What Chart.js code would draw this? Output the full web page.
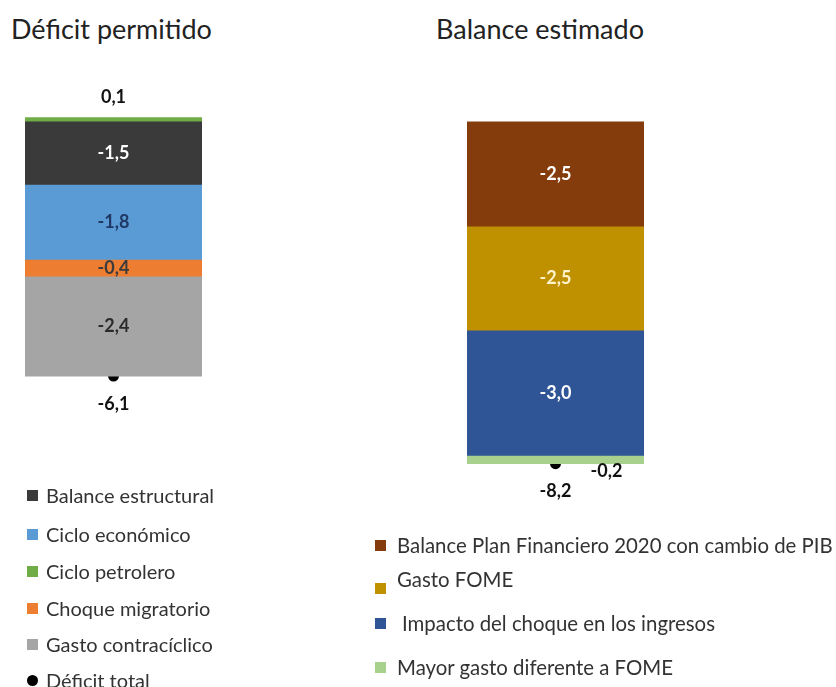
<!DOCTYPE html>
<html>
<head>
<meta charset="utf-8">
<script src="https://cdn.jsdelivr.net/npm/chart.js@4.4.1/dist/chart.umd.min.js"></script>
<style>
  body { margin: 0; background: #fff; font-family: Lato, sans-serif; color: #222; }
  #page { position: relative; width: 836px; height: 687px; overflow: hidden; }
  .title { position: absolute; top: 12px; font-size: 27px; line-height: normal; color: #222; white-space: nowrap; }
  .box { position: absolute; top: 0; width: 230px; height: 687px; }
  .legend { position: absolute; top: 0; margin: 0; padding: 0; list-style: none; font-size: 20px; color: #333; }
  .legend li { position: absolute; left: 0; height: 24px; line-height: 24px; white-space: nowrap; }
  .legend .sw { position: absolute; top: 7px; width: 11px; height: 11px; }
  .legend .dot { border-radius: 50%; }
  .legend .txt { position: absolute; top: 0; }
  #rightLegend { font-size: 20.4px; }
</style>
</head>
<body>
<div id="page">
  <div class="title" style="left:11px">Déficit permitido</div>
  <div class="title" style="left:436px">Balance estimado</div>
  <div class="box" style="left:0"><canvas id="leftChart"></canvas></div>
  <div class="box" style="left:440px"><canvas id="rightChart"></canvas></div>
  <ul class="legend" id="leftLegend" style="left:27px"></ul>
  <ul class="legend" id="rightLegend" style="left:375px"></ul>
</div>
<script>
// Déficit permitido (% del PIB)
const leftNames = ['Balance estructural', 'Ciclo económico', 'Choque migratorio', 'Gasto contracíclico', 'Ciclo petrolero'];
const leftValues = [-1.5, -1.8, -0.4, -2.4, 0.1];
const leftTotal = -6.1;

// Balance estimado (% del PIB)
const rightNames = ['Balance Plan Financiero 2020 con cambio de PIB', 'Gasto FOME', 'Impacto del choque en los ingresos', 'Mayor gasto diferente a FOME'];
const rightValues = [-2.5, -2.5, -3.0, -0.2];
const rightTotal = -8.2;

const leftColors = ['#3a3a3a', '#5b9bd5', '#ed7d31', '#a5a5a5', '#70ad47'];
const leftLabelColors = ['#ffffff', '#1f3864', '#3b3b3b', '#2b2b2b', '#111111'];
const leftLabelPos = ['center', 'center', 'center', 'center', 'above'];

const rightColors = ['#843c0c', '#bf9000', '#2f5597', '#a9d18e'];
const rightLabelColors = ['#ffffff', '#fff2cc', '#ffffff', '#111111'];
const rightLabelPos = ['center', 'center', 'center', 'right'];

const fmt = v => v.toFixed(1).replace('.', ',');

const barLabels = {
  id: 'barLabels',
  afterDatasetsDraw(chart) {
    const ctx = chart.ctx;
    ctx.save();
    ctx.font = 'bold 18px Lato, sans-serif';
    ctx.textAlign = 'center';
    ctx.textBaseline = 'middle';
    chart.data.datasets.forEach((ds, i) => {
      const el = chart.getDatasetMeta(i).data[0];
      const v = ds.data[0];
      let x = el.x, y;
      if (ds.type === 'line') {
        y = el.y + 28;
      } else if (ds.labelPos === 'above') {
        y = el.y - 20;
      } else if (ds.labelPos === 'right') {
        x += 51;
        y = el.y + 8;
      } else {
        y = (el.y + el.base) / 2;
      }
      ctx.fillStyle = ds.labelColor || '#111';
      ctx.fillText(fmt(v), x, y);
    });
    ctx.restore();
  }
};

function makeChart(id, names, values, colors, labelColors, labelPos, total, padLeft) {
  const datasets = values.map((v, i) => ({
    type: 'bar',
    label: names[i],
    data: [v],
    backgroundColor: colors[i],
    labelColor: labelColors[i],
    labelPos: labelPos[i],
    barPercentage: 1,
    categoryPercentage: 1
  }));
  datasets.push({
    type: 'line',
    label: 'Déficit total',
    data: [total],
    stack: 'total',
    showLine: false,
    pointRadius: 5.5,
    pointBackgroundColor: '#000',
    pointBorderWidth: 0,
    labelColor: '#111'
  });
  return new Chart(document.getElementById(id), {
    data: { labels: [''], datasets },
    options: {
      responsive: true,
      maintainAspectRatio: false,
      animation: false,
      layout: { padding: { left: padLeft, right: 230 - padLeft - 177, top: 101, bottom: 190 } },
      scales: {
        x: { display: false, stacked: true },
        y: { display: false, stacked: true, min: -9, max: 0.5 }
      },
      plugins: {
        legend: { display: false },
        tooltip: { enabled: false }
      }
    },
    plugins: [barLabels]
  });
}

makeChart('leftChart', leftNames, leftValues, leftColors, leftLabelColors, leftLabelPos, leftTotal, 25);
makeChart('rightChart', rightNames, rightValues, rightColors, rightLabelColors, rightLabelPos, rightTotal, 27);

// rows: centre y of each line, text x offset, swatch y shift
function buildLegend(elId, items, rows, textX) {
  const ul = document.getElementById(elId);
  items.forEach((it, i) => {
    const li = document.createElement('li');
    li.style.top = (rows[i][0] - 12) + 'px';
    const sw = document.createElement('span');
    sw.className = 'sw' + (it.dot ? ' dot' : '');
    sw.style.background = it.color;
    sw.style.top = (7 + (rows[i][2] || 0)) + 'px';
    const tx = document.createElement('span');
    tx.className = 'txt';
    tx.style.left = (textX + (rows[i][1] || 0)) + 'px';
    tx.textContent = it.name;
    li.appendChild(sw);
    li.appendChild(tx);
    ul.appendChild(li);
  });
}

buildLegend('leftLegend', [
  { name: 'Balance estructural', color: leftColors[0] },
  { name: 'Ciclo económico', color: leftColors[1] },
  { name: 'Ciclo petrolero', color: leftColors[4] },
  { name: 'Choque migratorio', color: leftColors[2] },
  { name: 'Gasto contracíclico', color: leftColors[3] },
  { name: 'Déficit total', color: '#000', dot: true }
], [[495], [534], [571], [608], [644], [680]], 19);

buildLegend('rightLegend', rightNames.map((n, i) => ({ name: n, color: rightColors[i] })),
  [[545], [579, 0, 9], [623, 5], [667]], 22);
</script>
</body>
</html>
